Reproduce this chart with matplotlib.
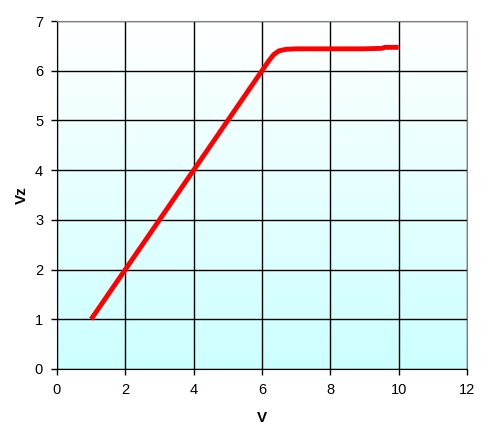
import numpy as np
import matplotlib
matplotlib.use("Agg")
import matplotlib.pyplot as plt

plt.rcParams["font.family"] = ["Liberation Sans", "DejaVu Sans"]

v = [1, 2, 3, 4, 5, 6, 6.2, 6.35, 6.5, 6.7, 7, 8, 9, 9.5, 9.6, 10]
vz = [1, 2, 3, 4, 5, 6, 6.2, 6.33, 6.40, 6.43, 6.44, 6.44, 6.44, 6.45, 6.47, 6.47]

x_ticks = [0, 2, 4, 6, 8, 10, 12]
y_ticks = [0, 1, 2, 3, 4, 5, 6, 7]

fig = plt.figure(figsize=(4.85, 4.33), dpi=100)
ax = fig.add_axes([0.1175, 0.148, 0.8455, 0.8035])

# background gradient white -> light cyan
grad = np.linspace(0, 1, 256).reshape(-1, 1)
top = np.array([1.0, 1.0, 1.0])
bottom = np.array([204, 255, 255]) / 255
img = top + (bottom - top) * grad[:, :, None]
ax.imshow(img, extent=[0, 12, 0, 7], aspect="auto", origin="upper", zorder=0)

ax.plot(v, vz, color="#ff0000", linewidth=3.5, solid_capstyle="butt",
        solid_joinstyle="round", zorder=3)

ax.set_xlim(0, 12)
ax.set_ylim(0, 7)
ax.set_xticks(x_ticks)
ax.set_yticks(y_ticks)
ax.grid(True, color="black", linewidth=1.0, zorder=1)
ax.set_axisbelow(True)

for side in ["top", "right"]:
    ax.spines[side].set_color("#808080")
for side in ["left", "bottom"]:
    ax.spines[side].set_color("black")

ax.tick_params(direction="out", length=4, width=1, labelsize=10.5, pad=6)

ax.set_xlabel("V", fontsize=11, fontweight="bold", labelpad=10)
ax.set_ylabel("Vz", fontsize=11, fontweight="bold", labelpad=4)

fig.savefig("out.png", dpi=100)
